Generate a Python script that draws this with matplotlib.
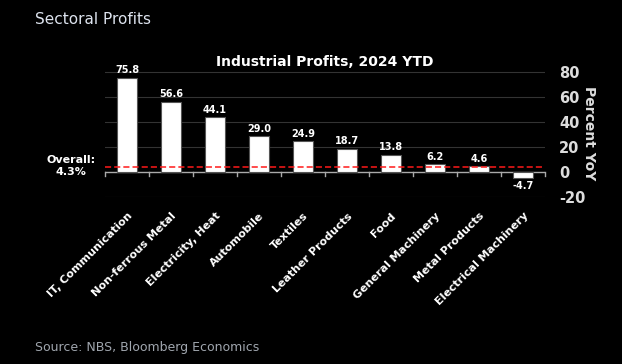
import matplotlib
matplotlib.use("Agg")
import matplotlib.pyplot as plt
import numpy as np

# data
sectors = ["IT, Communication", "Non-ferrous Metal", "Electricity, Heat", "Automobile",
           "Textiles", "Leather Products", "Food", "General Machinery",
           "Metal Products", "Electrical Machinery"]
profits = [75.8, 56.6, 44.1, 29.0, 24.9, 18.7, 13.8, 6.2, 4.6, -4.7]
overall = 4.3
yticks = [-20, 0, 20, 40, 60, 80]

fig = plt.figure(figsize=(6.22, 3.64), dpi=100, facecolor="black")
ax = fig.add_axes([105/622, 1-197/364, 440/622, 127/364], facecolor="black")

x = np.arange(len(sectors))
ax.bar(x, profits, width=0.45, color="white", edgecolor="#555555", linewidth=0.8, zorder=3)

# value labels
for xi, v in zip(x, profits):
    if v >= 0:
        ax.text(xi, v + 2, f"{v:.1f}", ha="center", va="bottom", color="white",
                fontsize=7, fontweight="bold", zorder=4)
    else:
        ax.text(xi, v - 2.5, f"{v:.1f}", ha="center", va="top", color="white",
                fontsize=7, fontweight="bold", zorder=4)

# overall line
ax.axhline(overall, color="#ff1a1a", linestyle=(0, (4, 2)), linewidth=1.1, zorder=5)
fig.text(71/622, 1-166/364, "Overall:\n4.3%", ha="center", va="center", color="white",
         fontsize=8, fontweight="bold", linespacing=1.3)

ax.set_xlim(-0.5, len(sectors) - 0.5)
ax.set_ylim(-20, 82)

# grid
for t in yticks:
    if t != 0:
        ax.axhline(t, color="#333333", linewidth=0.8, zorder=1)
ax.axhline(0, color="#aaaaaa", linewidth=1.0, zorder=2)
for b in np.arange(-0.5, len(sectors), 1):
    ax.plot([b, b], [0, -3.2], color="#aaaaaa", linewidth=1.0, zorder=2, clip_on=False)

for s in ax.spines.values():
    s.set_visible(False)

ax.yaxis.tick_right()
ax.set_yticks(yticks)
ax.set_yticklabels([str(t) for t in yticks], color="#dddddd", fontsize=10.5, fontweight="bold")
ax.tick_params(axis="y", length=0, pad=10)
ax.yaxis.set_label_position("right")
ax.set_ylabel("Percent YoY", rotation=-90, color="#dddddd", fontsize=10,
              fontweight="bold", labelpad=8)

ax.set_xticks(x)
ax.set_xticklabels(sectors, rotation=45, ha="right", rotation_mode="anchor",
                   color="white", fontsize=8, fontweight="bold")
ax.tick_params(axis="x", length=0, pad=10)

fig.text(325/622, 1-62/364, "Industrial Profits, 2024 YTD", ha="center", va="center",
         color="white", fontsize=10, fontweight="bold")
fig.text(35/622, 1-20/364, "Sectoral Profits", ha="left", va="center",
         color="#dde3ee", fontsize=11)
fig.text(35/622, 1-347/364, "Source: NBS, Bloomberg Economics", ha="left", va="center",
         color="#a0a6ae", fontsize=9)

fig.savefig("out.png", dpi=100, facecolor="black")
